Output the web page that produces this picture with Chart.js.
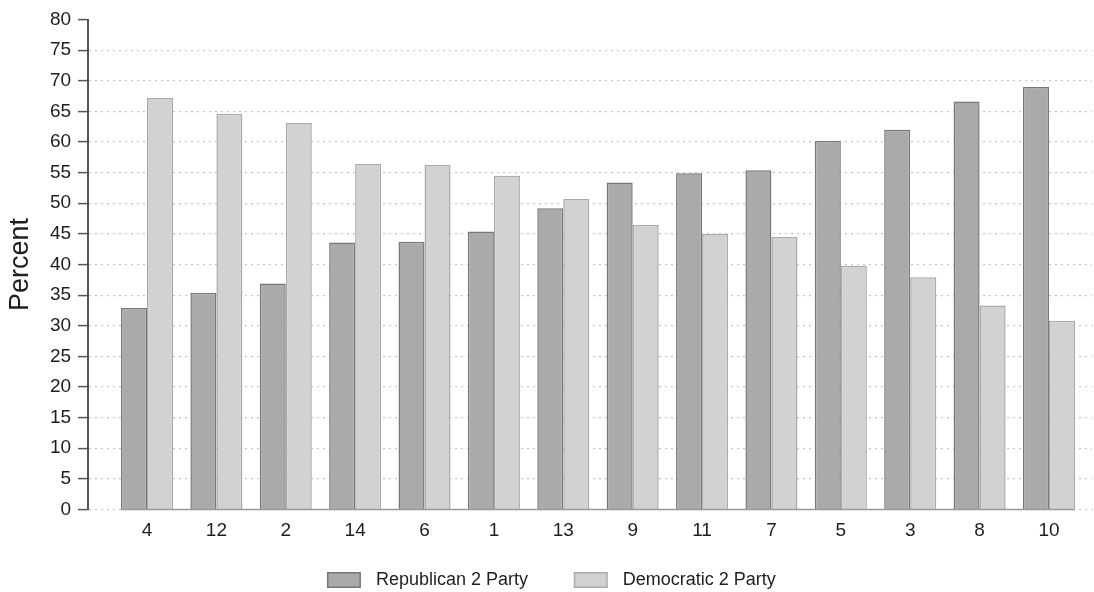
<!DOCTYPE html>
<html>
<head>
<meta charset="utf-8">
<script src="https://cdn.jsdelivr.net/npm/chart.js@4/dist/chart.umd.min.js"></script>
<style>
  html, body { margin: 0; padding: 0; background: #ffffff; }
  #wrap { width: 1094px; height: 592px; position: relative; }
</style>
</head>
<body>
<div id="wrap"><canvas id="c"></canvas></div>
<script>
// ---- data ----
const categories = ['4', '12', '2', '14', '6', '1', '13', '9', '11', '7', '5', '3', '8', '10'];
const republican = [32.9, 35.4, 36.9, 43.6, 43.7, 45.4, 49.2, 53.4, 54.9, 55.4, 60.2, 62.0, 66.6, 69.0];
const democratic = [67.2, 64.6, 63.1, 56.4, 56.3, 54.5, 50.7, 46.5, 45.0, 44.5, 39.8, 37.9, 33.3, 30.8];
const seriesNames = ['Republican 2 Party', 'Democratic 2 Party'];
const yTicks = { min: 0, max: 80, step: 5 };
const yTitle = 'Percent';

const FONT = '"Liberation Sans", Arial, Helvetica, sans-serif';
const FILLS = ['#aaaaaa', '#d2d2d2'];
const BORDERS = ['#777777', '#aaaaaa'];

const toPoints = arr => arr.map((v, i) => ({ x: i, y: v }));

// legend swatch: 34x16 box placed so that it sits 15px before the label text
const SWATCH_SPACE = 66;
function makeSwatch(fill, border) {
  const c = document.createElement('canvas');
  c.width = SWATCH_SPACE;
  c.height = 18;
  const g = c.getContext('2d');
  const off = SWATCH_SPACE - 40;
  g.fillStyle = fill;
  g.fillRect(off, 1, 34, 16);
  g.strokeStyle = border;
  g.lineWidth = 1.5;
  g.strokeRect(off + 0.75, 1.75, 32.5, 14.5);
  return c;
}
const swatches = [makeSwatch(FILLS[0], BORDERS[0]), makeSwatch(FILLS[1], BORDERS[1])];

// solid baseline under the bars (from first bar to last bar)
const baseline = {
  id: 'baseline',
  afterDatasetsDraw(chart) {
    const m0 = chart.getDatasetMeta(0).data;
    const m1 = chart.getDatasetMeta(1).data;
    if (!m0.length || !m1.length) return;
    const first = m0[0], last = m1[m1.length - 1];
    const x1 = first.x - first.width / 2;
    const x2 = last.x + last.width / 2;
    const y = chart.scales.y.getPixelForValue(0);
    const ctx = chart.ctx;
    ctx.save();
    ctx.strokeStyle = '#9a9a9a';
    ctx.lineWidth = 1.5;
    ctx.beginPath();
    ctx.moveTo(x1, y);
    ctx.lineTo(x2, y);
    ctx.stroke();
    ctx.restore();
  }
};

new Chart(document.getElementById('c'), {
  type: 'bar',
  data: {
    datasets: [
      {
        label: seriesNames[0],
        data: toPoints(republican),
        backgroundColor: FILLS[0],
        borderColor: BORDERS[0],
        borderWidth: 1.5,
        categoryPercentage: 0.75,
        barPercentage: 1.0
      },
      {
        label: seriesNames[1],
        data: toPoints(democratic),
        backgroundColor: FILLS[1],
        borderColor: BORDERS[1],
        borderWidth: 1.5,
        categoryPercentage: 0.75,
        barPercentage: 1.0
      }
    ]
  },
  options: {
    responsive: true,
    maintainAspectRatio: false,
    animation: false,
    layout: { padding: { top: 19.5, right: 2, bottom: 0, left: -15.3 } },
    plugins: {
      tooltip: { enabled: false },
      legend: {
        position: 'bottom',
        maxHeight: 40.7,
        labels: {
          usePointStyle: true,
          pointStyleWidth: SWATCH_SPACE,
          boxHeight: 16,
          padding: 19.7,
          color: '#1e1e1e',
          font: { family: FONT, size: 18 },
          generateLabels(chart) {
            const items = Chart.defaults.plugins.legend.labels.generateLabels(chart);
            items.forEach((it, i) => { it.pointStyle = swatches[i]; });
            return items;
          }
        }
      }
    },
    scales: {
      x: {
        type: 'linear',
        min: -0.85,
        max: 13.62,
        offset: false,
        grid: { display: false, drawTicks: false },
        border: { display: false },
        afterBuildTicks(scale) {
          scale.ticks = categories.map((c, i) => ({ value: i }));
        },
        ticks: {
          autoSkip: false,
          maxRotation: 0,
          padding: 9.5,
          color: '#1e1e1e',
          font: { family: FONT, size: 19, lineHeight: 1.2 },
          callback: v => categories[v]
        }
      },
      y: {
        min: yTicks.min,
        max: yTicks.max,
        ticks: {
          stepSize: yTicks.step,
          padding: 7,
          color: '#1e1e1e',
          font: { family: FONT, size: 19, lineHeight: 1.2 }
        },
        grid: {
          color: ctx => (ctx.tick && ctx.tick.value === yTicks.max) ? 'rgba(0,0,0,0)' : '#c6c6c6',
          lineWidth: 1.2,
          tickColor: '#555555',
          tickLength: 10,
          tickWidth: 1.5
        },
        border: { display: true, color: '#555555', width: 2, dash: [2, 4] },
        title: {
          display: true,
          text: yTitle,
          color: '#1e1e1e',
          font: { family: FONT, size: 27, lineHeight: 1.2 },
          padding: { top: 20.1, bottom: 5.7 }
        }
      }
    }
  },
  plugins: [baseline]
});
</script>
</body>
</html>
